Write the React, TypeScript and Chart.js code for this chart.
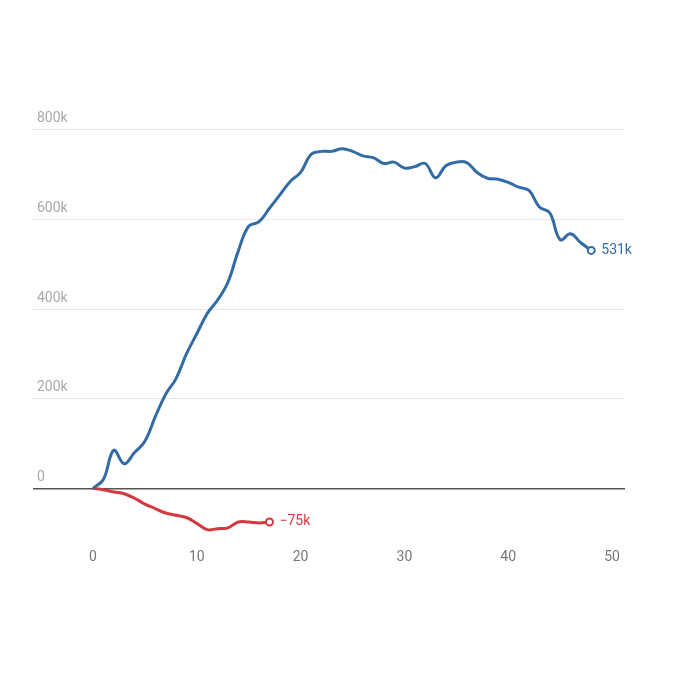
import { useEffect, useRef } from "react";
import { Chart, registerables } from "chart.js";

Chart.register(...registerables);

const blueX = Array.from({ length: 49 }, (_, i) => i);
const blueValues = [
  0, 20, 85, 55, 80, 105, 160, 210, 245, 300, 345, 390, 420, 460, 530, 585, 595, 625, 655, 685,
  705, 745, 752, 752, 758, 752, 742, 738, 725, 728, 715, 718, 725, 693, 720, 728, 727, 705, 692,
  690, 683, 672, 665, 628, 615, 555, 568, 548, 531,
];
const redValues = [0, -3, -8, -12, -22, -35, -45, -55, -60, -65, -78, -92, -90, -88, -75, -75, -77, -75];
const yTicks = [0, 200, 400, 600, 800];
const xTicks = [0, 10, 20, 30, 40, 50];

const BLUE = "#336ca5";
const RED = "#d2383f";

const labelsPlugin = {
  id: "labels",
  afterDraw(chart: Chart) {
    const { ctx, scales } = chart;
    const y = scales.y;
    const x = scales.x;
    ctx.save();
    ctx.font = "14px Roboto";
    ctx.textBaseline = "bottom";
    ctx.textAlign = "left";
    ctx.fillStyle = "#a8a8a8";
    yTicks.forEach((v) => ctx.fillText(v === 0 ? "0" : v + "k", 37, y.getPixelForValue(v) - 4));
    ctx.textBaseline = "middle";
    const bl = blueValues[blueValues.length - 1];
    ctx.fillStyle = BLUE;
    ctx.fillText(bl + "k", x.getPixelForValue(48) + 10, y.getPixelForValue(bl));
    const rl = redValues[redValues.length - 1];
    ctx.fillStyle = RED;
    ctx.fillText("−" + Math.abs(rl) + "k", x.getPixelForValue(redValues.length - 1) + 10, y.getPixelForValue(rl));
    ctx.restore();
  },
};

export default function App() {
  const ref = useRef<HTMLCanvasElement>(null);
  useEffect(() => {
    document.body.style.margin = "0";
    if (!ref.current) return;
    const lastPt = (n: number) => (c: any) => (c.dataIndex === n ? 3.5 : 0);
    const chart = new Chart(ref.current, {
      type: "line",
      data: {
        datasets: [
          {
            data: blueValues.map((v, i) => ({ x: blueX[i], y: v })),
            borderColor: BLUE,
            borderWidth: 3,
            tension: 0.4,
            pointRadius: lastPt(blueValues.length - 1),
            pointBackgroundColor: "#fff",
            pointBorderColor: BLUE,
            pointBorderWidth: 2,
          },
          {
            data: redValues.map((v, i) => ({ x: i, y: v })),
            borderColor: RED,
            borderWidth: 3,
            tension: 0.4,
            pointRadius: lastPt(redValues.length - 1),
            pointBackgroundColor: "#fff",
            pointBorderColor: RED,
            pointBorderWidth: 2,
          },
        ],
      },
      options: {
        animation: false,
        responsive: false,
        layout: { padding: { left: 33, right: 63, top: 120, bottom: 106 } },
        plugins: { legend: { display: false }, tooltip: { enabled: false } },
        scales: {
          x: {
            type: "linear",
            min: -5.78,
            max: 51.25,
            grid: { display: false, drawTicks: false },
            border: { display: false },
            afterBuildTicks: (s: any) => {
              s.ticks = xTicks.map((v) => ({ value: v }));
            },
            ticks: { color: "#777", font: { family: "Roboto", size: 14 }, padding: 16, maxRotation: 0 },
          },
          y: {
            min: -100,
            max: 822,
            afterBuildTicks: (s: any) => {
              s.ticks = yTicks.map((v) => ({ value: v }));
            },
            ticks: { display: false },
            border: { display: false },
            grid: {
              drawTicks: false,
              color: (c: any) => (c.tick && c.tick.value === 0 ? "#555" : "#e6e6e6"),
              lineWidth: (c: any) => (c.tick && c.tick.value === 0 ? 1.5 : 1),
            },
          },
        },
      },
      plugins: [labelsPlugin],
    } as any);
    return () => chart.destroy();
  }, []);
  return <canvas ref={ref} width={688} height={688} style={{ display: "block" }} />;
}
